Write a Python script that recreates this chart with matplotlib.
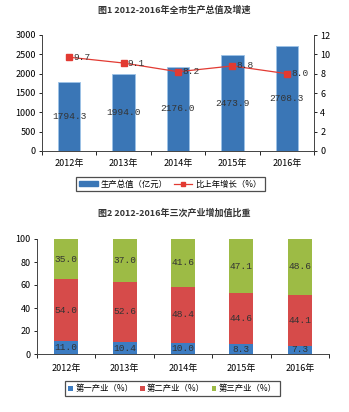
import matplotlib
matplotlib.use("Agg")
import matplotlib.pyplot as plt
from matplotlib.lines import Line2D
from matplotlib.patches import Patch
import numpy as np

plt.rcParams['font.family'] = ['Noto Sans CJK SC', 'DejaVu Sans']

years = ['2012年', '2013年', '2014年', '2015年', '2016年']
gdp = [1794.3, 1994.0, 2176.0, 2473.9, 2708.3]
growth = [9.7, 9.1, 8.2, 8.8, 8.0]
primary = [11.0, 10.4, 10.0, 8.3, 7.3]
secondary = [54.0, 52.6, 48.4, 44.6, 44.1]
tertiary = [35.0, 37.0, 41.6, 47.1, 48.6]

title1 = '图1 2012-2016年全市生产总值及增速'
title2 = '图2 2012-2016年三次产业增加值比重'
leg1 = ['生产总值（亿元）', '比上年增长（%）']
leg2 = ['第一产业（%）', '第二产业（%）', '第三产业（%）']

W, H = 349, 412
fig = plt.figure(figsize=(W / 100, H / 100), dpi=100)
fig.patch.set_facecolor('white')

blue = '#3A76B6'
red = '#E23A32'
sblue = '#3C7CC2'
sred = '#D64B4A'
sgreen = '#9DBB45'
numfont = dict(family=['Liberation Mono', 'DejaVu Sans Mono'], color='#333333')

def px_axes(l, t, r, b):
    return fig.add_axes([l / W, (H - b) / H, (r - l) / W, (b - t) / H])

x = np.arange(len(years))

# ---------- Chart 1 ----------
ax1 = px_axes(42, 35, 314, 151)
ax1.bar(x, gdp, width=0.41, color=blue, edgecolor='#9CC3E8', linewidth=0.6, zorder=2)
ax1.set_ylim(0, 3000)
ax1.set_yticks(range(0, 3001, 500))
ax1.set_xlim(-0.5, 4.5)
ax1.set_xticks(x)
ax1.set_xticklabels(years)
ax1.set_xticks(np.arange(-0.5, 5, 1), minor=True)
ax1.tick_params(axis='x', which='major', length=0, labelsize=6.5, pad=6)
ax1.tick_params(axis='x', which='minor', length=3, width=0.6, direction='out')
ax1.tick_params(axis='y', length=2.5, width=0.6, labelsize=6.5, pad=2)
ax1.spines['top'].set_visible(False)
for s in ['left', 'right', 'bottom']:
    ax1.spines[s].set_linewidth(0.6)
    ax1.spines[s].set_color('#444444')
for xi, v in zip(x, gdp):
    ax1.text(xi, v / 2, f'{v:.1f}', ha='center', va='center', fontsize=6.8, **numfont)

ax1b = ax1.twinx()
ax1b.plot(x, growth, color=red, linewidth=0.9, marker='s', markersize=4, zorder=3)
ax1b.set_ylim(0, 12)
ax1b.set_yticks(range(0, 13, 2))
ax1b.tick_params(axis='y', length=2.5, width=0.6, labelsize=6.5, pad=2)
ax1b.spines['top'].set_visible(False)
for s in ['left', 'right', 'bottom']:
    ax1b.spines[s].set_linewidth(0.6)
    ax1b.spines[s].set_color('#444444')
for xi, v in zip(x, growth):
    ax1b.annotate(f'{v:.1f}', (xi, v), xytext=(3, 0), textcoords='offset points',
                  ha='left', va='center', fontsize=6.8, **numfont)

fig.text(0.5, (H - 10) / H, title1, ha='center', va='center', fontsize=6.5, fontweight='bold', color='#333333')

h1 = [Patch(facecolor=blue, edgecolor=blue),
      Line2D([0], [0], color=red, marker='s', markersize=3.2, linewidth=0.9)]
lg1 = fig.legend(h1, leg1, loc='center', bbox_to_anchor=(170.5 / W, (H - 184) / H),
                 ncol=2, fontsize=6.0, frameon=True, fancybox=False, edgecolor='#222222',
                 handlelength=2.2, handleheight=0.5, columnspacing=0.7, handletextpad=0.4,
                 borderpad=0.35, borderaxespad=0)
lg1.get_frame().set_linewidth(0.9)

# ---------- Chart 2 ----------
ax2 = px_axes(37, 239, 329, 354)
w = 0.41
ax2.bar(x, primary, width=w, color=sblue, zorder=2)
ax2.bar(x, secondary, width=w, bottom=primary, color=sred, zorder=2)
bot3 = [a + b for a, b in zip(primary, secondary)]
ax2.bar(x, tertiary, width=w, bottom=bot3, color=sgreen, zorder=2)
ax2.set_ylim(0, 100)
ax2.set_yticks(range(0, 101, 20))
ax2.set_xlim(-0.5, 4.5)
ax2.set_xticks(x)
ax2.set_xticklabels(years)
ax2.set_xticks(np.arange(-0.5, 5, 1), minor=True)
ax2.tick_params(axis='x', which='major', length=0, labelsize=6.5, pad=7)
ax2.tick_params(axis='x', which='minor', length=3, width=0.6, direction='out')
ax2.tick_params(axis='y', length=2.5, width=0.6, labelsize=6.5, pad=2)
for s in ['top', 'right']:
    ax2.spines[s].set_visible(False)
for s in ['left', 'bottom']:
    ax2.spines[s].set_linewidth(0.7)
    ax2.spines[s].set_color('#444444')
for xi, a, b, c in zip(x, primary, secondary, tertiary):
    ax2.text(xi, a / 2, f'{a:.1f}', ha='center', va='center', fontsize=6.8, **numfont)
    ax2.text(xi, a + b / 2, f'{b:.1f}', ha='center', va='center', fontsize=6.8, **numfont)
    ax2.text(xi, a + b + c / 2, f'{c:.1f}', ha='center', va='center', fontsize=6.8, **numfont)

fig.text(0.5, (H - 213) / H, title2, ha='center', va='center', fontsize=6.5, fontweight='bold', color='#333333')

h2 = [Patch(facecolor=sblue), Patch(facecolor=sred), Patch(facecolor=sgreen)]
lg2 = fig.legend(h2, leg2, loc='center', bbox_to_anchor=(172.5 / W, (H - 388.5) / H),
                 ncol=3, fontsize=6.0, frameon=True, fancybox=False, edgecolor='#222222',
                 handlelength=0.55, handleheight=0.55, columnspacing=0.8, handletextpad=0.3,
                 borderpad=0.35, borderaxespad=0)
lg2.get_frame().set_linewidth(0.9)

fig.savefig('out.png', dpi=100, facecolor='white')
